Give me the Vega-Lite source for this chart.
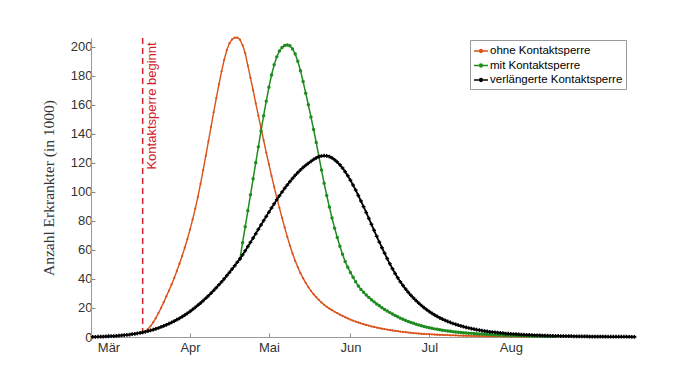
{
"$schema":"https://vega.github.io/schema/vega-lite/v6.json",
"width":545,"height":299,
"autosize":{"type":"none"},
"padding":{"left":91,"top":38,"right":49,"bottom":35},
"background":"white",
"config":{"view":{"stroke":null},
 "axis":{"grid":false,"domainColor":"#9a9a9a","tickColor":"#8a8a8a","tickSize":-4,"labelFont":"Liberation Sans","labelFontSize":13,"labelColor":"#333333","labelOverlap":false},
 "legend":{"orient":"none","legendX":379,"legendY":2,"strokeColor":"#9a9a9a","fillColor":"white","padding":3,"labelFont":"Liberation Sans","labelFontSize":11.5,"labelColor":"#000000","labelOffset":1,"rowPadding":0.5,"symbolType":"M-1,0H1M-0.2,0A0.2,0.2 0 1 1 0.2,0A0.2,0.2 0 1 1 -0.2,0","symbolSize":196,"symbolStrokeWidth":1.5}},
"data":{"values":[
{"s":"v","d":-6,"y":0.1},{"s":"v","d":-5,"y":0.15},{"s":"v","d":-4,"y":0.2},{"s":"v","d":-3,"y":0.25},{"s":"v","d":-2,"y":0.3},{"s":"v","d":-1,"y":0.37},{"s":"v","d":0,"y":0.45},{"s":"v","d":1,"y":0.55},{"s":"v","d":2,"y":0.65},{"s":"v","d":3,"y":0.8},{"s":"v","d":4,"y":0.95},{"s":"v","d":5,"y":1.1},{"s":"v","d":6,"y":1.3},{"s":"v","d":7,"y":1.5},{"s":"v","d":8,"y":1.7},{"s":"v","d":9,"y":1.95},{"s":"v","d":10,"y":2.2},{"s":"v","d":11,"y":2.5},{"s":"v","d":12,"y":2.8},{"s":"v","d":13,"y":3.2},{"s":"v","d":14,"y":3.6},{"s":"v","d":15,"y":4.0},{"s":"v","d":16,"y":4.5},{"s":"v","d":17,"y":5.0},{"s":"v","d":18,"y":5.6},{"s":"v","d":19,"y":6.2},{"s":"v","d":20,"y":6.9},{"s":"v","d":21,"y":7.6},{"s":"v","d":22,"y":8.4},{"s":"v","d":23,"y":9.2},{"s":"v","d":24,"y":10.0},{"s":"v","d":25,"y":10.9},{"s":"v","d":26,"y":11.9},{"s":"v","d":27,"y":12.9},{"s":"v","d":28,"y":14.0},{"s":"v","d":29,"y":15.1},{"s":"v","d":30,"y":16.3},{"s":"v","d":31,"y":17.6},{"s":"v","d":32,"y":19.0},{"s":"v","d":33,"y":20.4},{"s":"v","d":34,"y":21.9},{"s":"v","d":35,"y":23.4},{"s":"v","d":36,"y":25.0},{"s":"v","d":37,"y":26.7},{"s":"v","d":38,"y":28.4},{"s":"v","d":39,"y":30.2},{"s":"v","d":40,"y":32.1},{"s":"v","d":41,"y":34.0},{"s":"v","d":42,"y":36.0},{"s":"v","d":43,"y":38.0},{"s":"v","d":44,"y":40.1},{"s":"v","d":45,"y":42.3},{"s":"v","d":46,"y":44.5},{"s":"v","d":47,"y":46.8},{"s":"v","d":48,"y":49.1},{"s":"v","d":49,"y":51.5},{"s":"v","d":50,"y":53.9},{"s":"v","d":51,"y":56.6},{"s":"v","d":52,"y":59.4},{"s":"v","d":53,"y":62.3},{"s":"v","d":54,"y":65.2},{"s":"v","d":55,"y":68.2},{"s":"v","d":56,"y":71.2},{"s":"v","d":57,"y":74.2},{"s":"v","d":58,"y":77.2},{"s":"v","d":59,"y":80.2},{"s":"v","d":60,"y":83.1},{"s":"v","d":61,"y":86.0},{"s":"v","d":62,"y":88.9},{"s":"v","d":63,"y":91.8},{"s":"v","d":64,"y":94.6},{"s":"v","d":65,"y":97.3},{"s":"v","d":66,"y":99.9},{"s":"v","d":67,"y":102.4},{"s":"v","d":68,"y":104.8},{"s":"v","d":69,"y":107.1},{"s":"v","d":70,"y":109.3},{"s":"v","d":71,"y":111.4},{"s":"v","d":72,"y":113.3},{"s":"v","d":73,"y":115.1},{"s":"v","d":74,"y":116.8},{"s":"v","d":75,"y":118.3},{"s":"v","d":76,"y":119.7},{"s":"v","d":77,"y":121.0},{"s":"v","d":78,"y":122.3},{"s":"v","d":79,"y":123.4},{"s":"v","d":80,"y":124.2},{"s":"v","d":81,"y":124.7},{"s":"v","d":82,"y":124.9},{"s":"v","d":83,"y":124.8},{"s":"v","d":84,"y":124.3},{"s":"v","d":85,"y":123.4},{"s":"v","d":86,"y":122.1},{"s":"v","d":87,"y":120.5},{"s":"v","d":88,"y":118.6},{"s":"v","d":89,"y":116.4},{"s":"v","d":90,"y":113.9},{"s":"v","d":91,"y":111.1},{"s":"v","d":92,"y":108.0},{"s":"v","d":93,"y":104.7},{"s":"v","d":94,"y":101.2},{"s":"v","d":95,"y":97.5},{"s":"v","d":96,"y":93.7},{"s":"v","d":97,"y":89.8},{"s":"v","d":98,"y":85.8},{"s":"v","d":99,"y":81.7},{"s":"v","d":100,"y":77.6},{"s":"v","d":101,"y":73.5},{"s":"v","d":102,"y":69.4},{"s":"v","d":103,"y":65.4},{"s":"v","d":104,"y":61.5},{"s":"v","d":105,"y":57.7},{"s":"v","d":106,"y":54.0},{"s":"v","d":107,"y":50.4},{"s":"v","d":108,"y":47.0},{"s":"v","d":109,"y":43.8},{"s":"v","d":110,"y":40.8},{"s":"v","d":111,"y":38.0},{"s":"v","d":112,"y":35.4},{"s":"v","d":113,"y":33.0},{"s":"v","d":114,"y":30.8},{"s":"v","d":115,"y":28.7},{"s":"v","d":116,"y":26.8},{"s":"v","d":117,"y":25.0},{"s":"v","d":118,"y":23.3},{"s":"v","d":119,"y":21.7},{"s":"v","d":120,"y":20.2},{"s":"v","d":121,"y":18.8},{"s":"v","d":122,"y":17.5},{"s":"v","d":123,"y":16.3},{"s":"v","d":124,"y":15.2},{"s":"v","d":125,"y":14.2},{"s":"v","d":126,"y":13.2},{"s":"v","d":127,"y":12.3},{"s":"v","d":128,"y":11.5},{"s":"v","d":129,"y":10.7},{"s":"v","d":130,"y":10.0},{"s":"v","d":131,"y":9.3},{"s":"v","d":132,"y":8.7},{"s":"v","d":133,"y":8.1},{"s":"v","d":134,"y":7.6},{"s":"v","d":135,"y":7.1},{"s":"v","d":136,"y":6.6},{"s":"v","d":137,"y":6.2},{"s":"v","d":138,"y":5.8},{"s":"v","d":139,"y":5.4},{"s":"v","d":140,"y":5.0},{"s":"v","d":141,"y":4.7},{"s":"v","d":142,"y":4.4},{"s":"v","d":143,"y":4.1},{"s":"v","d":144,"y":3.8},{"s":"v","d":145,"y":3.6},{"s":"v","d":146,"y":3.4},{"s":"v","d":147,"y":3.2},{"s":"v","d":148,"y":3.0},{"s":"v","d":149,"y":2.8},{"s":"v","d":150,"y":2.6},{"s":"v","d":151,"y":2.4},{"s":"v","d":152,"y":2.3},{"s":"v","d":153,"y":2.1},{"s":"v","d":154,"y":2.0},{"s":"v","d":155,"y":1.9},{"s":"v","d":156,"y":1.8},{"s":"v","d":157,"y":1.7},{"s":"v","d":158,"y":1.6},{"s":"v","d":159,"y":1.5},{"s":"v","d":160,"y":1.4},{"s":"v","d":161,"y":1.3},{"s":"v","d":162,"y":1.2},{"s":"v","d":163,"y":1.15},{"s":"v","d":164,"y":1.1},{"s":"v","d":165,"y":1.0},{"s":"v","d":166,"y":0.95},{"s":"v","d":167,"y":0.9},{"s":"v","d":168,"y":0.85},{"s":"v","d":169,"y":0.8},{"s":"v","d":170,"y":0.75},{"s":"v","d":171,"y":0.7},{"s":"v","d":172,"y":0.66},{"s":"v","d":173,"y":0.62},{"s":"v","d":174,"y":0.58},{"s":"v","d":175,"y":0.55},{"s":"v","d":176,"y":0.52},{"s":"v","d":177,"y":0.49},{"s":"v","d":178,"y":0.46},{"s":"v","d":179,"y":0.43},{"s":"v","d":180,"y":0.4},{"s":"v","d":181,"y":0.38},{"s":"v","d":182,"y":0.36},{"s":"v","d":183,"y":0.34},{"s":"v","d":184,"y":0.32},{"s":"v","d":185,"y":0.31},{"s":"v","d":186,"y":0.3},{"s":"v","d":187,"y":0.28},{"s":"v","d":188,"y":0.27},{"s":"v","d":189,"y":0.26},{"s":"v","d":190,"y":0.25},{"s":"v","d":191,"y":0.24},{"s":"v","d":192,"y":0.23},{"s":"v","d":193,"y":0.22},{"s":"v","d":194,"y":0.21},{"s":"v","d":195,"y":0.2},{"s":"v","d":196,"y":0.19},{"s":"v","d":197,"y":0.18},{"s":"v","d":198,"y":0.17},{"s":"v","d":199,"y":0.16},{"s":"v","d":200,"y":0.15},
{"s":"o","d":12,"y":2.8},{"s":"o","d":13,"y":3.2},{"s":"o","d":14,"y":4.0},{"s":"o","d":15,"y":5.5},{"s":"o","d":16,"y":7.5},{"s":"o","d":17,"y":10},{"s":"o","d":18,"y":13},{"s":"o","d":19,"y":16.5},{"s":"o","d":20,"y":20},{"s":"o","d":21,"y":24},{"s":"o","d":22,"y":28},{"s":"o","d":23,"y":32},{"s":"o","d":24,"y":36.2},{"s":"o","d":25,"y":40.7},{"s":"o","d":26,"y":45.5},{"s":"o","d":27,"y":50.5},{"s":"o","d":28,"y":55.8},{"s":"o","d":29,"y":61.5},{"s":"o","d":30,"y":67.5},{"s":"o","d":31,"y":74},{"s":"o","d":32,"y":81},{"s":"o","d":33,"y":88.5},{"s":"o","d":34,"y":96.5},{"s":"o","d":35,"y":105.5},{"s":"o","d":36,"y":115},{"s":"o","d":37,"y":124.8},{"s":"o","d":38,"y":134.8},{"s":"o","d":39,"y":144.8},{"s":"o","d":40,"y":154.8},{"s":"o","d":41,"y":164.6},{"s":"o","d":42,"y":174},{"s":"o","d":43,"y":183},{"s":"o","d":44,"y":191},{"s":"o","d":45,"y":197.7},{"s":"o","d":46,"y":202.4},{"s":"o","d":47,"y":205},{"s":"o","d":48,"y":206.2},{"s":"o","d":49,"y":206.3},{"s":"o","d":50,"y":204.8},{"s":"o","d":51,"y":201},{"s":"o","d":52,"y":195.5},{"s":"o","d":53,"y":187},{"s":"o","d":54,"y":178.5},{"s":"o","d":55,"y":170},{"s":"o","d":56,"y":161},{"s":"o","d":57,"y":152.5},{"s":"o","d":58,"y":144},{"s":"o","d":59,"y":135.5},{"s":"o","d":60,"y":127},{"s":"o","d":61,"y":119},{"s":"o","d":62,"y":111},{"s":"o","d":63,"y":103.5},{"s":"o","d":64,"y":96},{"s":"o","d":65,"y":89},{"s":"o","d":66,"y":82},{"s":"o","d":67,"y":75.5},{"s":"o","d":68,"y":69},{"s":"o","d":69,"y":63},{"s":"o","d":70,"y":57.5},{"s":"o","d":71,"y":52.5},{"s":"o","d":72,"y":48},{"s":"o","d":73,"y":44},{"s":"o","d":74,"y":40.5},{"s":"o","d":75,"y":37.3},{"s":"o","d":76,"y":34.4},{"s":"o","d":77,"y":31.8},{"s":"o","d":78,"y":29.5},{"s":"o","d":79,"y":27.4},{"s":"o","d":80,"y":25.5},{"s":"o","d":81,"y":23.8},{"s":"o","d":82,"y":22.2},{"s":"o","d":83,"y":20.8},{"s":"o","d":84,"y":19.6},{"s":"o","d":85,"y":18.5},{"s":"o","d":86,"y":17.4},{"s":"o","d":87,"y":16.4},{"s":"o","d":88,"y":15.4},{"s":"o","d":89,"y":14.5},{"s":"o","d":90,"y":13.6},{"s":"o","d":91,"y":12.8},{"s":"o","d":92,"y":12.0},{"s":"o","d":93,"y":11.3},{"s":"o","d":94,"y":10.6},{"s":"o","d":95,"y":10.0},{"s":"o","d":96,"y":9.4},{"s":"o","d":97,"y":8.8},{"s":"o","d":98,"y":8.3},{"s":"o","d":99,"y":7.8},{"s":"o","d":100,"y":7.3},{"s":"o","d":101,"y":6.9},{"s":"o","d":102,"y":6.5},{"s":"o","d":103,"y":6.1},{"s":"o","d":104,"y":5.7},{"s":"o","d":105,"y":5.4},{"s":"o","d":106,"y":5.1},{"s":"o","d":107,"y":4.8},{"s":"o","d":108,"y":4.5},{"s":"o","d":109,"y":4.2},{"s":"o","d":110,"y":4.0},{"s":"o","d":111,"y":3.7},{"s":"o","d":112,"y":3.5},{"s":"o","d":113,"y":3.3},{"s":"o","d":114,"y":3.1},{"s":"o","d":115,"y":2.9},{"s":"o","d":116,"y":2.7},{"s":"o","d":117,"y":2.5},{"s":"o","d":118,"y":2.4},{"s":"o","d":119,"y":2.2},{"s":"o","d":120,"y":2.1},{"s":"o","d":121,"y":2.0},{"s":"o","d":122,"y":1.9},{"s":"o","d":123,"y":1.8},{"s":"o","d":124,"y":1.7},{"s":"o","d":125,"y":1.6},{"s":"o","d":126,"y":1.5},{"s":"o","d":127,"y":1.4},{"s":"o","d":128,"y":1.35},{"s":"o","d":129,"y":1.3},{"s":"o","d":130,"y":1.2},{"s":"o","d":131,"y":1.15},{"s":"o","d":132,"y":1.1},{"s":"o","d":133,"y":1.0},{"s":"o","d":134,"y":0.95},{"s":"o","d":135,"y":0.9},{"s":"o","d":136,"y":0.85},{"s":"o","d":137,"y":0.8},{"s":"o","d":138,"y":0.76},{"s":"o","d":139,"y":0.72},{"s":"o","d":140,"y":0.68},{"s":"o","d":141,"y":0.65},{"s":"o","d":142,"y":0.62},{"s":"o","d":143,"y":0.59},{"s":"o","d":144,"y":0.56},{"s":"o","d":145,"y":0.53},{"s":"o","d":146,"y":0.5},{"s":"o","d":147,"y":0.48},{"s":"o","d":148,"y":0.46},{"s":"o","d":149,"y":0.44},{"s":"o","d":150,"y":0.42},{"s":"o","d":151,"y":0.4},{"s":"o","d":152,"y":0.38},{"s":"o","d":153,"y":0.36},{"s":"o","d":154,"y":0.35},{"s":"o","d":155,"y":0.33},{"s":"o","d":156,"y":0.32},{"s":"o","d":157,"y":0.3},{"s":"o","d":158,"y":0.29},{"s":"o","d":159,"y":0.28},{"s":"o","d":160,"y":0.27},
{"s":"m","d":50,"y":53.9},{"s":"m","d":51,"y":65},{"s":"m","d":52,"y":76},{"s":"m","d":53,"y":87},{"s":"m","d":54,"y":98},{"s":"m","d":55,"y":109},{"s":"m","d":56,"y":120},{"s":"m","d":57,"y":131},{"s":"m","d":58,"y":142},{"s":"m","d":59,"y":152.5},{"s":"m","d":60,"y":162.5},{"s":"m","d":61,"y":172},{"s":"m","d":62,"y":180.5},{"s":"m","d":63,"y":187.5},{"s":"m","d":64,"y":193},{"s":"m","d":65,"y":197},{"s":"m","d":66,"y":199.5},{"s":"m","d":67,"y":200.8},{"s":"m","d":68,"y":201.2},{"s":"m","d":69,"y":200.6},{"s":"m","d":70,"y":198.5},{"s":"m","d":71,"y":195},{"s":"m","d":72,"y":190},{"s":"m","d":73,"y":183.5},{"s":"m","d":74,"y":176},{"s":"m","d":75,"y":168},{"s":"m","d":76,"y":160},{"s":"m","d":77,"y":151.5},{"s":"m","d":78,"y":143},{"s":"m","d":79,"y":134},{"s":"m","d":80,"y":124.5},{"s":"m","d":81,"y":115},{"s":"m","d":82,"y":106},{"s":"m","d":83,"y":97.5},{"s":"m","d":84,"y":89.5},{"s":"m","d":85,"y":82},{"s":"m","d":86,"y":75},{"s":"m","d":87,"y":68.5},{"s":"m","d":88,"y":62.5},{"s":"m","d":89,"y":57},{"s":"m","d":90,"y":52},{"s":"m","d":91,"y":48},{"s":"m","d":92,"y":44.5},{"s":"m","d":93,"y":41.2},{"s":"m","d":94,"y":38.0},{"s":"m","d":95,"y":35.2},{"s":"m","d":96,"y":32.8},{"s":"m","d":97,"y":30.8},{"s":"m","d":98,"y":29.0},{"s":"m","d":99,"y":27.3},{"s":"m","d":100,"y":25.7},{"s":"m","d":101,"y":24.2},{"s":"m","d":102,"y":22.8},{"s":"m","d":103,"y":21.5},{"s":"m","d":104,"y":20.2},{"s":"m","d":105,"y":19.0},{"s":"m","d":106,"y":17.9},{"s":"m","d":107,"y":16.8},{"s":"m","d":108,"y":15.8},{"s":"m","d":109,"y":14.8},{"s":"m","d":110,"y":13.9},{"s":"m","d":111,"y":13.0},{"s":"m","d":112,"y":12.2},{"s":"m","d":113,"y":11.4},{"s":"m","d":114,"y":10.7},{"s":"m","d":115,"y":10.0},{"s":"m","d":116,"y":9.4},{"s":"m","d":117,"y":8.8},{"s":"m","d":118,"y":8.2},{"s":"m","d":119,"y":7.7},{"s":"m","d":120,"y":7.2},{"s":"m","d":121,"y":6.8},{"s":"m","d":122,"y":6.4},{"s":"m","d":123,"y":6.0},{"s":"m","d":124,"y":5.6},{"s":"m","d":125,"y":5.3},{"s":"m","d":126,"y":5.0},{"s":"m","d":127,"y":4.7},{"s":"m","d":128,"y":4.4},{"s":"m","d":129,"y":4.1},{"s":"m","d":130,"y":3.9},{"s":"m","d":131,"y":3.7},{"s":"m","d":132,"y":3.5},{"s":"m","d":133,"y":3.3},{"s":"m","d":134,"y":3.1},{"s":"m","d":135,"y":2.9},{"s":"m","d":136,"y":2.8},{"s":"m","d":137,"y":2.6},{"s":"m","d":138,"y":2.5},{"s":"m","d":139,"y":2.4},{"s":"m","d":140,"y":2.2},{"s":"m","d":141,"y":2.1},{"s":"m","d":142,"y":2.0},{"s":"m","d":143,"y":1.9},{"s":"m","d":144,"y":1.8},{"s":"m","d":145,"y":1.7},{"s":"m","d":146,"y":1.6},{"s":"m","d":147,"y":1.5},{"s":"m","d":148,"y":1.45},{"s":"m","d":149,"y":1.4},{"s":"m","d":150,"y":1.3},{"s":"m","d":151,"y":1.25},{"s":"m","d":152,"y":1.2},{"s":"m","d":153,"y":1.1},{"s":"m","d":154,"y":1.05},{"s":"m","d":155,"y":1.0},{"s":"m","d":156,"y":0.95},{"s":"m","d":157,"y":0.9},{"s":"m","d":158,"y":0.85},{"s":"m","d":159,"y":0.8},{"s":"m","d":160,"y":0.76},{"s":"m","d":161,"y":0.72},{"s":"m","d":162,"y":0.68},{"s":"m","d":163,"y":0.65},{"s":"m","d":164,"y":0.62},{"s":"m","d":165,"y":0.59},{"s":"m","d":166,"y":0.56},{"s":"m","d":167,"y":0.53},{"s":"m","d":168,"y":0.5},{"s":"m","d":169,"y":0.48},{"s":"m","d":170,"y":0.46}
]},
"encoding":{
 "x":{"field":"d","type":"quantitative","scale":{"domain":[-6.65,200.6],"nice":false,"zero":false},
   "axis":{"values":[0,31,61,92,122,153],"title":null,"labelPadding":8,"labelExpr":"datum.value==0?'Mär':datum.value==31?'Apr':datum.value==61?'Mai':datum.value==92?'Jun':datum.value==122?'Jul':'Aug'"}},
 "y":{"field":"y","type":"quantitative","scale":{"domain":[0,206],"nice":false},
   "axis":{"values":[0,20,40,60,80,100,120,140,160,180,200],"tickCount":11,"labelOverlap":false,"title":"Anzahl Erkrankter (in 1000)","titleFont":"Liberation Serif","titleFontSize":15.5,"titleFontWeight":"normal","titleColor":"#333333","titlePadding":14,"labelPadding":3}}
},
"layer":[
 {"data":{"values":[{"d":13}]},
  "mark":{"type":"rule","color":"#d0202e","strokeWidth":1.5,"strokeDash":[6,4]},
  "encoding":{"y":null}},
 {"data":{"values":[{"d":13,"y":203}]},
  "mark":{"type":"text","angle":270,"align":"right","baseline":"top","dy":3,"color":"#d0202e","font":"Liberation Sans","fontSize":13},
  "encoding":{"text":{"value":"Kontaktsperre beginnt"}}},
 {"transform":[{"filter":"datum.s=='o'"}],
  "mark":{"type":"line","strokeWidth":1.4,"point":{"filled":true,"size":5}},
  "encoding":{"color":{"field":"s","type":"nominal","scale":{"domain":["o","m","v"],"range":["#d95319","#1e8c1e","#000000"]},
     "legend":{"title":null,"labelExpr":"datum.value=='o'?'ohne Kontaktsperre':datum.value=='m'?'mit Kontaktsperre':'verlängerte Kontaktsperre'"}}}},
 {"transform":[{"filter":"datum.s=='m'"}],
  "mark":{"type":"line","strokeWidth":1.5,"point":{"filled":true,"size":12}},
  "encoding":{"color":{"field":"s","type":"nominal"}}},
 {"transform":[{"filter":"datum.s=='v'"}],
  "mark":{"type":"line","strokeWidth":1.8,"point":{"shape":"cross","filled":true,"size":14}},
  "encoding":{"color":{"field":"s","type":"nominal"}}}
]
}
